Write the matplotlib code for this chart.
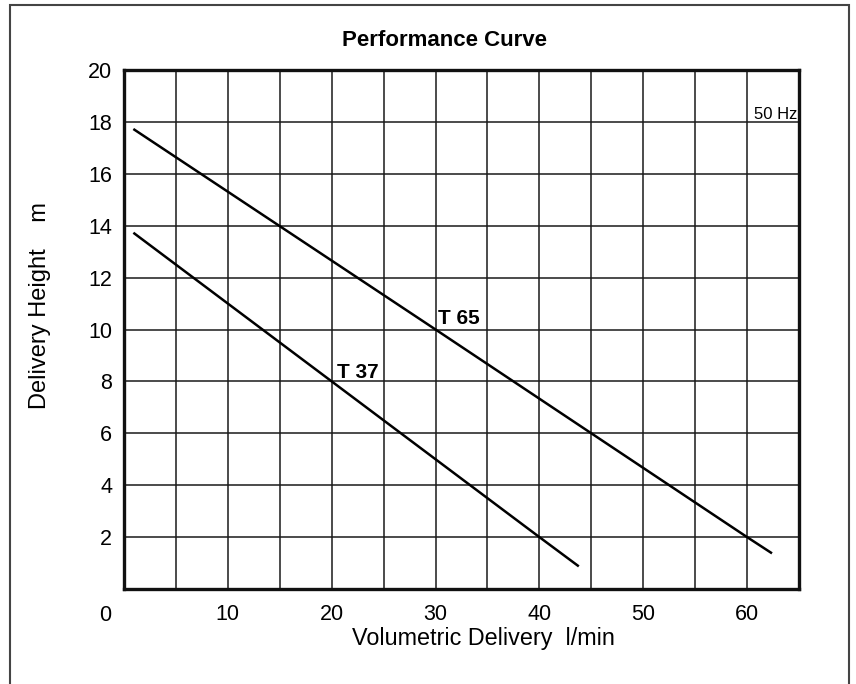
import matplotlib.pyplot as plt
from matplotlib.patches import Rectangle

plt.rcParams['font.family'] = ['Liberation Sans', 'DejaVu Sans']

# data
t65_flow = [1.0, 30.0, 60.0, 62.3]
t65_head = [17.7, 10.0, 2.0, 1.4]
t37_flow = [1.0, 20.0, 40.0, 43.7]
t37_head = [13.7, 8.0, 2.0, 0.9]
x_ticks = [10, 20, 30, 40, 50, 60]
y_ticks = [2, 4, 6, 8, 10, 12, 14, 16, 18, 20]

fig = plt.figure(figsize=(8.56, 6.84), dpi=100)
ax = fig.add_axes([124 / 856, 1 - 589 / 684, 675 / 856, 519 / 684])

# outer frame around the whole figure
fig.patches.append(Rectangle((10 / 856, -0.05), 839 / 856, 1.05 - 5 / 684,
                             transform=fig.transFigure, fill=False,
                             edgecolor='#444444', linewidth=1.5))

ax.set_xlim(0, 65)
ax.set_ylim(0, 20)

# grid every 5 l/min and every 2 m
ax.set_xticks(x_ticks)
ax.set_yticks(y_ticks)
ax.set_xticks(range(0, 66, 5), minor=True)
ax.set_yticks(range(0, 21, 2), minor=True)
ax.grid(which='both', color='#1a1a1a', linewidth=1.1)
ax.tick_params(which='both', length=0)
ax.tick_params(axis='x', labelsize=15.5, pad=11)
ax.tick_params(axis='y', labelsize=15.5, pad=8.5)
for s in ax.spines.values():
    s.set_linewidth(2.4)
    s.set_color('#111111')

ax.plot(t65_flow, t65_head, color='black', linewidth=1.8)
ax.plot(t37_flow, t37_head, color='black', linewidth=1.8)

ax.text(30.2, 10.2, 'T 65', fontsize=15, fontweight='bold', va='baseline')
ax.text(20.5, 8.15, 'T 37', fontsize=15, fontweight='bold', va='baseline')
ax.text(64.8, 18.1, '50 Hz', fontsize=12, ha='right', va='baseline')

# origin label sits apart from the other ticks
ax.text(-1.8, -0.6, '0', fontsize=15.5, ha='center', va='top')

fig.text(445 / 856, 1 - 40 / 684, 'Performance Curve', fontsize=16,
         fontweight='bold', ha='center', va='center')
fig.text(483 / 856, 1 - 639 / 684, 'Volumetric Delivery  l/min',
         fontsize=16.8, ha='center', va='center')
fig.text(40 / 856, 1 - 306 / 684, 'Delivery Height    m', fontsize=17,
         rotation=90, ha='center', va='center')

plt.savefig('out.png')
